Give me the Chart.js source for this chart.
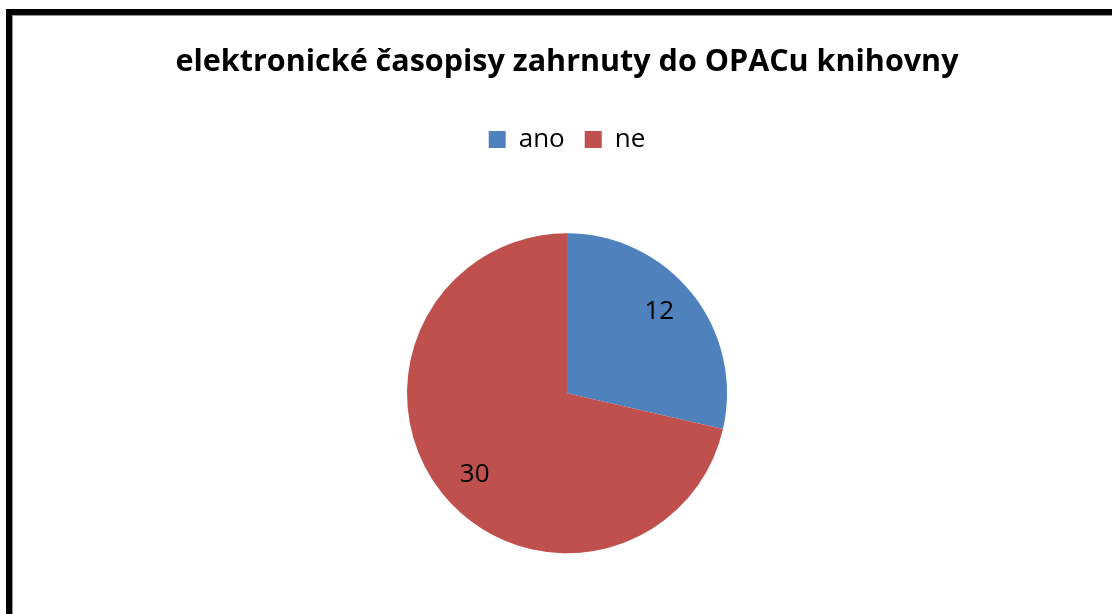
<!DOCTYPE html>
<html>
<head>
<meta charset="utf-8">
<script src="https://cdn.jsdelivr.net/npm/chart.js@4"></script>
<style>
  html, body { margin: 0; padding: 0; background: #fff; overflow: hidden; width: 1112px; height: 614px; }
  #frame {
    position: absolute; left: 6px; top: 9px; width: 1200px; height: 700px;
    border-left: 6px solid #000; border-top: 6px solid #000;
    box-shadow: inset 1px 1px 0 #999;
  }
  #wrap { position: absolute; left: 0; top: 0; width: 1112px; height: 700px; }
</style>
</head>
<body>
<div id="frame"></div>
<div id="wrap"><canvas id="chart"></canvas></div>
<script>
const categories = ["ano", "ne"];
const values = [12, 30];
const colors = ["#4F81BD", "#C0504D"];
const titleText = "elektronické časopisy zahrnuty do OPACu knihovny";

// value labels inside the slices
const sliceLabels = {
  id: "sliceLabels",
  afterDatasetsDraw(chart) {
    const ctx = chart.ctx;
    const meta = chart.getDatasetMeta(0);
    ctx.save();
    ctx.font = "26px 'Open Sans'";
    ctx.fillStyle = "#000";
    ctx.textAlign = "center";
    ctx.textBaseline = "middle";
    meta.data.forEach((arc, i) => {
      const mid = (arc.startAngle + arc.endAngle) / 2 - 0.05;
      const r = arc.outerRadius * 0.77;
      ctx.fillText(String(values[i]), arc.x + Math.cos(mid) * r, arc.y + Math.sin(mid) * r);
    });
    ctx.restore();
  }
};

new Chart(document.getElementById("chart"), {
  type: "pie",
  data: {
    labels: categories,
    datasets: [
      {
        data: values,
        backgroundColor: colors,
        borderWidth: 0,
        radius: 160,
      },
    ],
  },
  options: {
    responsive: true,
    maintainAspectRatio: false,
    animation: false,
    layout: { padding: { left: 22, top: 44, bottom: 76 } },
    plugins: {
      title: {
        display: true,
        text: titleText,
        color: "#000",
        font: { family: "'Open Sans'", size: 30.5, weight: "bold" },
        padding: { top: 0, bottom: 26 },
      },
      legend: {
        position: "top",
        labels: {
          color: "#000",
          font: { family: "'Open Sans'", size: 26 },
          boxWidth: 17,
          boxHeight: 17,
          padding: 20,
        },
      },
      tooltip: { enabled: false },
    },
  },
  plugins: [sliceLabels],
});
</script>
</body>
</html>
